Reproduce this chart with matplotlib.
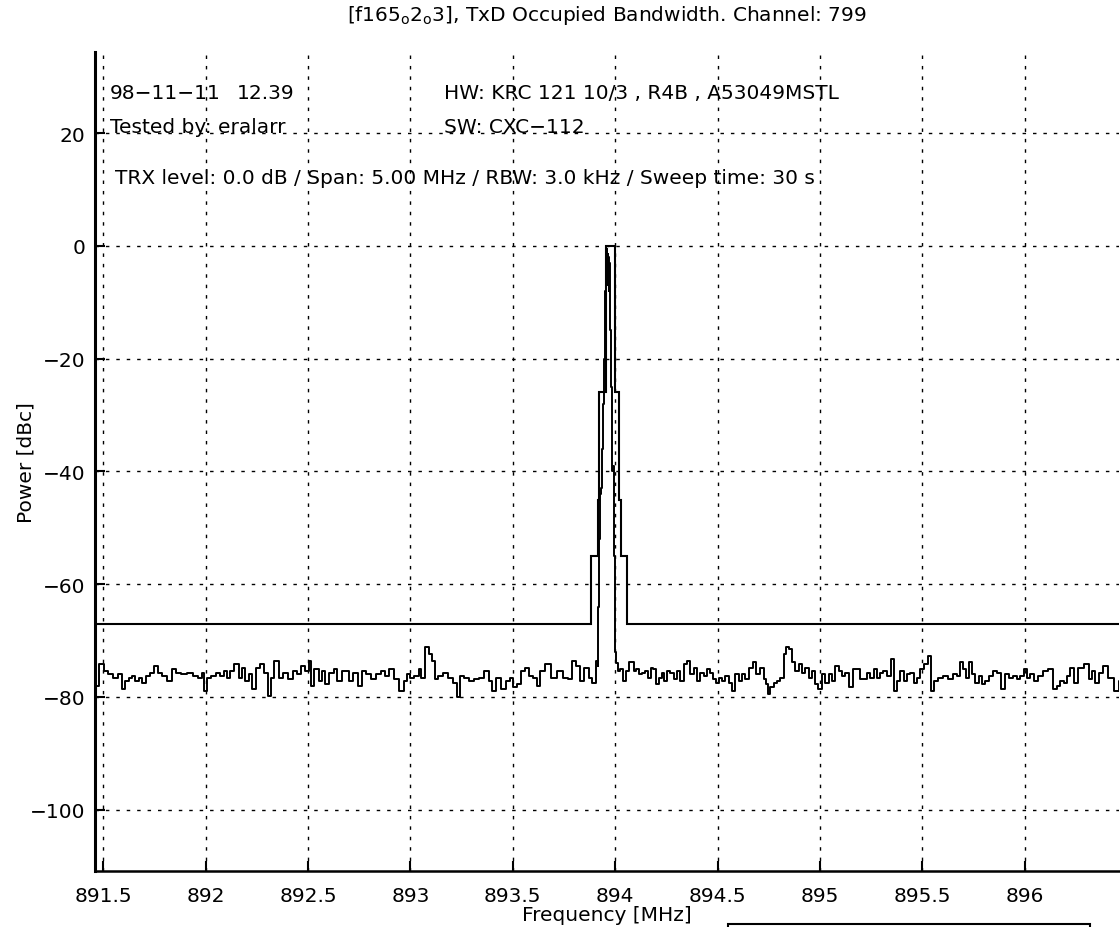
import matplotlib
matplotlib.use("Agg")
import matplotlib.pyplot as plt
from matplotlib.patches import Rectangle

plt.rcParams['font.family'] = ['DejaVu Sans']
plt.rcParams['mathtext.fontset'] = 'dejavusans'

# ---------------- data ----------------
# measured spectrum trace: frequency [MHz]
freq = [
    891.466, 891.494, 891.510, 891.534, 891.559, 891.583, 891.599, 891.616, 891.632, 891.648,
    891.664, 891.681, 891.697, 891.721, 891.738, 891.762, 891.778, 891.795, 891.827, 891.844,
    891.868, 891.892, 891.925, 891.949, 891.974, 891.990, 891.998, 892.014, 892.039, 892.063,
    892.080, 892.096, 892.112, 892.128, 892.153, 892.169, 892.185, 892.202, 892.218, 892.234,
    892.259, 892.275, 892.291, 892.316, 892.324, 892.348, 892.365, 892.389, 892.413, 892.438,
    892.454, 892.478, 892.495, 892.511, 892.519, 892.544, 892.560, 892.576, 892.592, 892.617,
    892.633, 892.649, 892.682,
    892.714, 892.730, 892.755, 892.771, 892.796, 892.820, 892.844, 892.869, 892.885, 892.910,
    892.934, 892.958, 892.975, 892.991, 893.007, 893.032, 893.048, 893.056, 893.084, 893.097,
    893.110, 893.126, 893.146, 893.170, 893.194, 893.219, 893.235, 893.251, 893.276, 893.300,
    893.325, 893.349, 893.374, 893.390, 893.406, 893.431, 893.455, 893.479, 893.491, 893.512,
    893.528, 893.553, 893.569, 893.585, 893.610, 893.626, 893.642, 893.675, 893.699, 893.732,
    893.756, 893.780, 893.797, 893.821, 893.838, 893.862, 893.878, 893.895, 893.914,
    893.9155, 893.917, 893.919, 893.921, 893.924, 893.926, 893.934, 893.938, 893.944, 893.948,
    893.952, 893.955, 893.958, 893.960, 893.962, 893.964, 893.966, 893.968, 893.970, 893.972,
    893.975, 893.978, 893.981, 893.984, 893.992, 893.996, 894.000, 894.003, 894.007,
    894.016, 894.028, 894.044, 894.057, 894.081, 894.098, 894.109, 894.122, 894.138, 894.155,
    894.168, 894.179, 894.187, 894.207, 894.220, 894.233, 894.244, 894.261, 894.277, 894.293,
    894.309, 894.326, 894.342, 894.358, 894.375, 894.391, 894.407, 894.423, 894.440, 894.456,
    894.472, 894.488, 894.500, 894.513, 894.529, 894.545, 894.562, 894.578, 894.594, 894.611,
    894.627, 894.643, 894.668, 894.679, 894.695, 894.716, 894.733, 894.741, 894.749, 894.765,
    894.782, 894.798, 894.814, 894.830, 894.842, 894.855, 894.871, 894.887, 894.904, 894.920,
    894.936, 894.952, 894.969, 894.985, 894.998, 895.018, 895.034, 895.050, 895.066, 895.083,
    895.099, 895.115, 895.132, 895.151, 895.172,
    895.221, 895.237, 895.253, 895.270, 895.286, 895.302, 895.318, 895.335, 895.356, 895.367,
    895.384, 895.400, 895.416, 895.432, 895.449, 895.465, 895.481, 895.497, 895.522, 895.535,
    895.546, 895.563, 895.587, 895.611, 895.636, 895.660, 895.677, 895.693, 895.704, 895.717,
    895.734, 895.750, 895.766, 895.782, 895.799, 895.815, 895.831, 895.856, 895.872, 895.896,
    895.913, 895.929, 895.953, 895.970, 895.986, 896.002, 896.018, 896.035, 896.051, 896.075,
    896.100, 896.124, 896.149, 896.165, 896.181, 896.198, 896.214, 896.230, 896.246, 896.271,
    896.303, 896.320, 896.336, 896.352, 896.368, 896.393, 896.417, 896.450, 896.466,
]
# measured spectrum trace: power [dBc]
power = [
    -78.0, -74.2, -75.4, -76.0, -76.6, -76.0, -78.6, -77.2, -76.6, -76.3,
    -77.2, -76.6, -77.5, -76.3, -75.7, -74.5, -75.7, -76.3, -77.2, -75.1,
    -75.7, -76.0, -75.7, -76.3, -76.6, -75.7, -78.9, -76.6, -76.3, -75.7,
    -76.3, -75.4, -76.6, -75.4, -74.2, -76.6, -74.8, -77.2, -76.0, -78.6,
    -74.8, -74.2, -75.7, -79.8, -76.6, -73.6, -76.6, -75.7, -76.9, -75.4,
    -76.0, -74.5, -75.4, -73.6, -78.0, -75.1, -77.2, -75.4, -77.8, -75.7,
    -75.1, -77.2, -75.4,
    -77.2, -75.7, -78.0, -75.4, -76.0, -76.9, -76.0, -75.4, -76.3, -75.1,
    -76.9, -78.9, -77.2, -76.0, -76.6, -76.3, -75.1, -76.6, -71.2, -72.4,
    -73.6, -76.9, -76.3, -75.7, -76.6, -77.5, -80.1, -76.3, -76.6, -77.2,
    -76.9, -76.6, -75.4, -77.2, -78.9, -76.6, -78.6, -77.2, -76.6, -78.3,
    -77.8, -75.4, -74.8, -76.3, -76.6, -78.0, -75.4, -74.2, -76.6, -75.4,
    -76.6, -76.9, -73.6, -74.5, -77.2, -74.8, -76.6, -77.5, -73.6,
    -74.5, -70.0, -64.0, -61.0, -52.0, -44.0, -43.0, -36.0, -28.0, -20.0,
    -8.0, -1.0, -5.0, -0.5, -7.0, -1.5, -6.0, -2.0, -8.0, -3.0,
    -9.0, -15.0, -25.0, -40.0, -39.0, -55.0, -68.0, -72.0, -74.0,
    -75.4, -75.1, -77.2, -75.4, -73.9, -75.4, -75.1, -76.0, -75.7, -75.4,
    -76.6, -74.8, -75.1, -77.8, -76.6, -75.7, -77.2, -75.4, -75.7, -76.9,
    -75.4, -77.2, -74.2, -73.6, -76.0, -74.8, -77.2, -75.7, -76.3, -75.1,
    -75.7, -76.9, -77.5, -76.6, -77.2, -76.3, -77.5, -78.9, -76.0, -77.2,
    -76.0, -76.9, -74.8, -73.9, -76.0, -74.8, -76.9, -77.8, -79.5, -78.3,
    -77.5, -77.2, -76.6, -72.4, -71.2, -71.5, -73.9, -75.4, -74.2, -75.7,
    -74.8, -76.6, -75.4, -77.8, -78.6, -76.0, -77.5, -76.0, -77.2, -74.5,
    -75.4, -76.3, -75.7, -78.3, -75.1,
    -76.9, -75.7, -76.6, -75.1, -76.6, -75.7, -75.4, -76.3, -73.3, -78.9,
    -77.2, -75.4, -77.2, -76.0, -75.7, -77.5, -76.6, -75.1, -74.2, -72.7,
    -78.9, -77.2, -76.6, -76.3, -76.9, -76.0, -76.3, -73.9, -75.1, -76.6,
    -73.9, -76.0, -77.5, -76.3, -77.8, -77.2, -76.3, -75.4, -75.7, -78.6,
    -76.0, -76.6, -76.3, -76.9, -76.3, -75.1, -76.6, -76.0, -77.2, -76.3,
    -75.4, -75.1, -78.6, -78.0, -77.2, -77.5, -76.3, -74.8, -77.5, -74.8,
    -74.2, -76.9, -75.4, -77.5, -75.7, -74.5, -76.6, -78.9, -77.2,
]

# spectrum mask (step levels between edges)
mask_edges = [891.46, 893.883, 893.916, 893.922, 893.955, 894.000, 894.021, 894.029, 894.060, 896.46]
mask_levels = [-67, -55, -45, -26, 0, -26, -45, -55, -67]

x_ticks = [891.5, 892, 892.5, 893, 893.5, 894, 894.5, 895, 895.5, 896]
x_tick_labels = ['891.5', '892', '892.5', '893', '893.5', '894', '894.5', '895', '895.5', '896']
y_ticks = [-100, -80, -60, -40, -20, 0, 20]
y_tick_labels = ['\u2212100', '\u221280', '\u221260', '\u221240', '\u221220', '0', '20']

title_text = r'[f165$_{\rm o}$2$_{\rm o}$3], TxD Occupied Bandwidth. Channel: 799'
x_label = 'Frequency [MHz]'
y_label = 'Power [dBc]'

# ---------------- figure ----------------
W, H = 1120, 928
fig = plt.figure(figsize=(W / 100, H / 100), dpi=100, facecolor='white')
ax = fig.add_axes([95 / W, 56 / H, 1024 / W, 819 / H])

FS = 14.5

ax.plot(freq, power, color='black', lw=1.4, drawstyle='steps-mid', zorder=3)
ax.stairs(mask_levels, mask_edges, baseline=None, color='black', lw=1.5, zorder=3)

ax.set_xlim(891.46, 896.46)
ax.set_ylim(-110.9, 34.4)
ax.set_xticks(x_ticks)
ax.set_xticklabels(x_tick_labels)
ax.set_yticks(y_ticks)
ax.set_yticklabels(y_tick_labels)

ax.grid(True, color='black', linestyle=(0, (2.5, 5)), linewidth=1.0)
for side in ['top', 'right']:
    ax.spines[side].set_visible(False)
ax.spines['left'].set_linewidth(2.2)
ax.spines['bottom'].set_linewidth(1.8)
ax.tick_params(axis='both', direction='in', length=7, width=1.5, labelsize=FS)
ax.tick_params(axis='y', pad=7)
ax.tick_params(axis='x', pad=11)

ax.set_title(title_text, fontsize=FS, pad=23)
ax.set_xlabel(x_label, fontsize=FS, labelpad=0)
ax.set_ylabel(y_label, fontsize=FS)
ax.yaxis.set_label_coords(-0.058, 0.5)

# annotation texts
ax.text(891.531, 27.2, '98\u221211\u221211', fontsize=FS, va='center', ha='left')
ax.text(892.154, 27.2, '12.39', fontsize=FS, va='center', ha='left')
ax.text(893.165, 27.2, 'HW: KRC 121 10/3 , R4B , A53049MSTL', fontsize=FS, va='center', ha='left')
ax.text(891.534, 21.1, 'Tested by: eralarr', fontsize=FS, va='center', ha='left')
ax.text(893.165, 21.1, 'SW: CXC\u2212112', fontsize=FS, va='center', ha='left')
ax.text(891.559, 12.1, 'TRX level: 0.0 dB / Span: 5.00 MHz / RBW: 3.0 kHz / Sweep time: 30 s',
        fontsize=FS, va='center', ha='left')

# partially visible box at the bottom edge
fig.add_artist(Rectangle((728 / W, -20 / H), (1090 - 728) / W, 23 / H,
                         transform=fig.transFigure, fill=False, edgecolor='black', lw=1.5))

fig.savefig('out.png', dpi=100, facecolor='white')
